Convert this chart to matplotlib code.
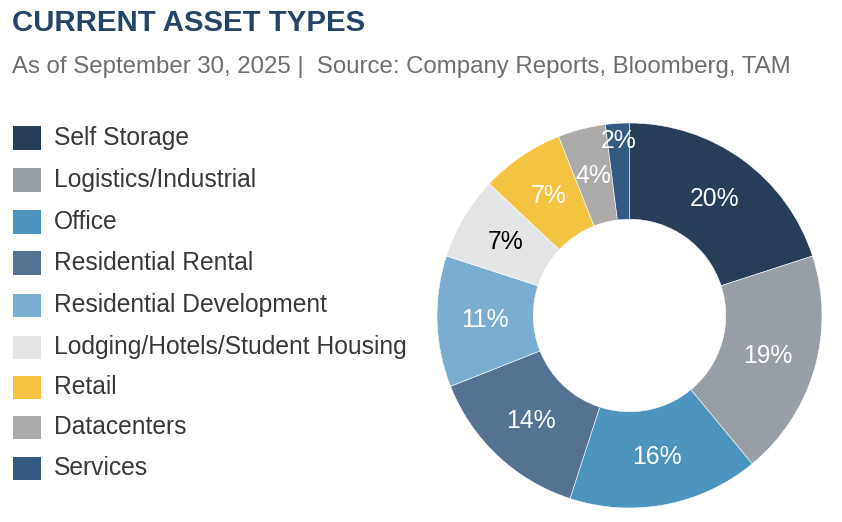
import matplotlib.pyplot as plt
from matplotlib.patches import Rectangle

# === Data ===
categories = ["Self Storage", "Logistics/Industrial", "Office", "Residential Rental",
              "Residential Development", "Lodging/Hotels/Student Housing", "Retail",
              "Datacenters", "Services"]
shares = [20, 19, 16, 14, 11, 7, 7, 4, 2]
colors = ["#283E58", "#989EA5", "#4C94BE", "#567293", "#7AAED0",
          "#E3E4E6", "#F5C342", "#ACABAA", "#335A80"]
label_colors = ["white", "white", "white", "white", "white",
                "black", "white", "white", "white"]

TITLE = "CURRENT ASSET TYPES"
SUBTITLE = "As of September 30, 2025 |  Source: Company Reports, Bloomberg, TAM"

plt.rcParams['font.family'] = ['Liberation Sans', 'DejaVu Sans']

W, H = 842, 522
fig = plt.figure(figsize=(W / 100, H / 100), dpi=100)

# title block
fig.text(12 / W, 1 - 31 / H, TITLE, fontsize=21.2, fontweight='bold',
         color="#264469", ha='left', va='baseline')
fig.text(12 / W, 1 - 73 / H, SUBTITLE, fontsize=17.3, color="#6E6E6E",
         ha='left', va='baseline')

# legend, drawn by hand so rows line up with the reference
row_y = [138, 180, 222, 263, 305, 347, 387, 427, 468]
for name, col, y in zip(categories, colors, row_y):
    fig.patches.append(Rectangle((13 / W, 1 - (y + 11.5) / H), 28 / W, 23 / H,
                                 transform=fig.transFigure, facecolor=col,
                                 edgecolor='none'))
    fig.text(54 / W, 1 - y / H, name, fontsize=17.7, color="#383838",
             ha='left', va='center')

# donut
cx, cy, r = 629.5, 315.5, 192.5
ax = fig.add_axes([(cx - r) / W, 1 - (cy + r) / H, 2 * r / W, 2 * r / H])
wedges, texts, autotexts = ax.pie(
    shares, colors=colors, startangle=90, counterclock=False,
    autopct='%d%%', pctdistance=0.75,
    wedgeprops=dict(width=0.5, edgecolor='white', linewidth=0.4),
    textprops=dict(fontsize=17.8))
for t, c in zip(autotexts, label_colors):
    t.set_color(c)
# the smallest slice label sits further out
x, y = autotexts[-1].get_position()
autotexts[-1].set_position((x * 0.91 / 0.75, y * 0.91 / 0.75))
ax.set_xlim(-1, 1)
ax.set_ylim(-1, 1)
ax.set_aspect('equal')
ax.axis('off')

fig.savefig('out.png', dpi=100)
